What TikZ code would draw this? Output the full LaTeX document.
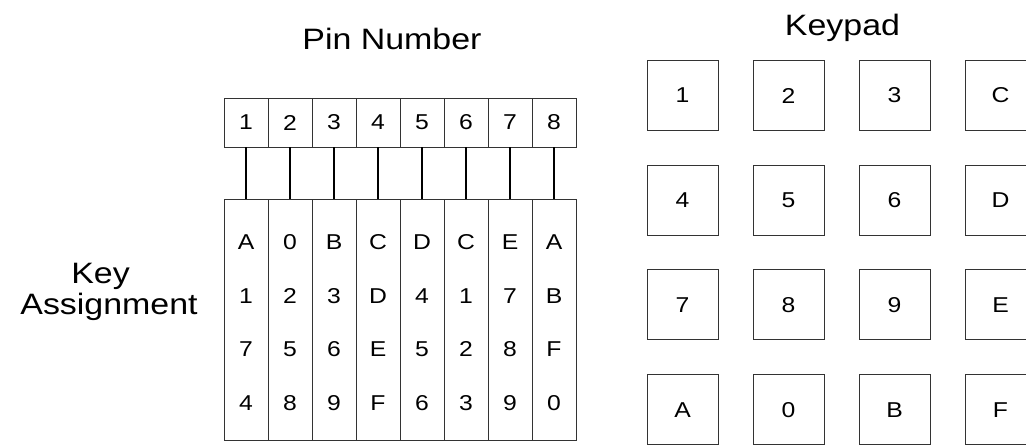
\documentclass[tikz,border=0pt]{standalone}
\usepackage{fontspec}
\setmainfont[FakeStretch=1.15]{Liberation Sans}
\usetikzlibrary{positioning}

\begin{document}
\begin{tikzpicture}[x=1pt,y=-1pt,
  pin/.style={draw=black!80,line width=0.9pt,minimum width=44pt,minimum height=49pt,
    inner sep=0pt,font=\fontsize{21.5}{23}\selectfont},
  col/.style={draw=black!80,line width=0.9pt,minimum width=44pt,minimum height=241pt,inner sep=0pt},
  ch/.style={inner sep=0pt,font=\fontsize{21.5}{23}\selectfont},
  key/.style={draw=black!80,line width=0.9pt,minimum width=71pt,minimum height=70pt,
    inner sep=0pt,font=\fontsize{21.5}{23}\selectfont},
  ttl/.style={inner sep=0pt,anchor=base,font=\fontsize{29.5}{31}\selectfont},
  wire/.style={line width=1.8pt}]
\path[use as bounding box,clip] (0,0) rectangle (1026,445);
% titles
\node[ttl] (pinttl) at (392,49) {Pin Number};
\node[ttl] (padttl) at (842.5,35) {Keypad};
\node[ttl] (keyttl) at (100.5,283) {Key};
\node[ttl] (asgttl) at (109,314) {Assignment};
% connector pins and wires
\foreach \i in {1,...,8} {
  \node[pin] (p\i) at ({246+44*(\i-1)},122.5) {\i};
  \node[col] (c\i) at ({246+44*(\i-1)},320) {};
  \draw[wire] (p\i) -- (c\i);
}
% key assignment per pin
\foreach \col [count=\i] in {{A,1,7,4},{0,2,5,8},{B,3,6,9},{C,D,E,F},
    {D,4,5,6},{C,1,2,3},{E,7,8,9},{A,B,F,0}}
  \foreach \ch [count=\r] in \col
    \node[ch] (k\i-\r) at ({246+44*(\i-1)},{242+53.7*(\r-1)}) {\ch};
% keypad
\foreach \row [count=\r] in {{1,2,3,C},{4,5,6,D},{7,8,9,E},{A,0,B,F}}
  \foreach \k [count=\j] in \row
    \node[key] (b\r-\j) at ({682.5+106*(\j-1)},{95.5+104.7*(\r-1)}) {\k};
\end{tikzpicture}
\end{document}
